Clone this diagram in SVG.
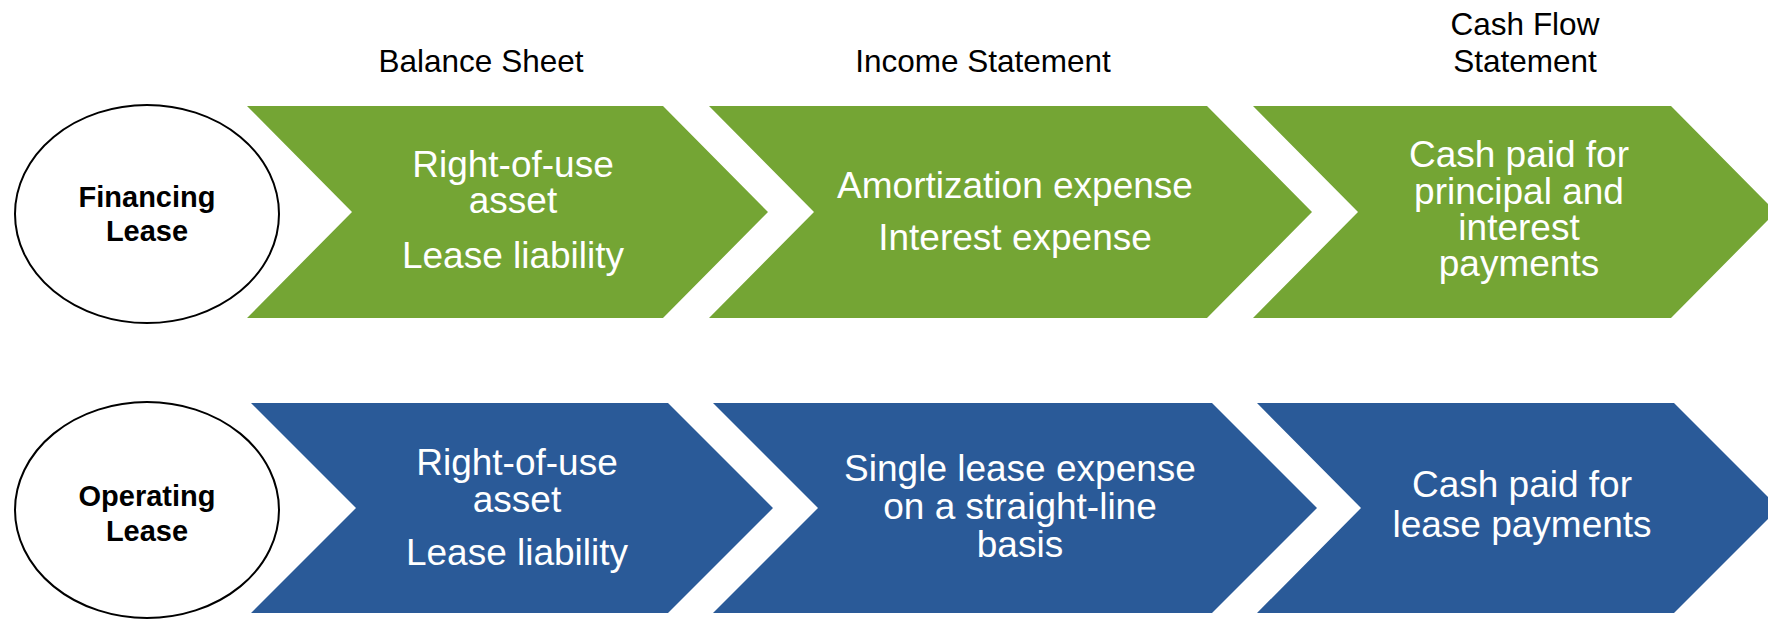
<svg xmlns="http://www.w3.org/2000/svg" width="1768" height="619" viewBox="0 0 1768 619">
<style>
  .hdr { font-family: "Liberation Sans", Arial, sans-serif; font-size: 31.5px; fill: #000; text-anchor: middle; }
  .lbl { font-family: "Liberation Sans", Arial, sans-serif; font-size: 29px; font-weight: bold; fill: #000; text-anchor: middle; }
  .ct { font-family: "Liberation Sans", Arial, sans-serif; font-size: 37px; fill: #fff; text-anchor: middle; }
  .ell { fill: #fff; stroke: #000; stroke-width: 2; }
  .green { fill: #74A534; }
  .blue { fill: #2A5A98; }
</style>
<rect width="1768" height="619" fill="#fff"/>
<g id="headers">
  <text class="hdr" x="481" y="72">Balance Sheet</text>
  <text class="hdr" x="983" y="72">Income Statement</text>
  <text class="hdr" x="1525" y="35">Cash Flow</text>
  <text class="hdr" x="1525" y="72">Statement</text>
</g>
<g id="financing-lease">
  <ellipse class="ell" cx="147" cy="214" rx="132" ry="109"/>
  <text class="lbl" x="147" y="207">Financing</text>
  <text class="lbl" x="147" y="241">Lease</text>
</g>
<g id="operating-lease">
  <ellipse class="ell" cx="147" cy="510" rx="132" ry="108"/>
  <text class="lbl" x="147" y="506">Operating</text>
  <text class="lbl" x="147" y="541">Lease</text>
</g>
<g id="fin-balance">
  <path class="green" d="M247,106 L663,106 L768,212 L663,318 L247,318 L352,212 Z"/>
  <text class="ct" x="513" y="177">Right-of-use</text>
  <text class="ct" x="513" y="213">asset</text>
  <text class="ct" x="513" y="268">Lease liability</text>
</g>
<g id="fin-income">
  <path class="green" d="M709,106 L1207,106 L1312,212 L1207,318 L709,318 L814,212 Z"/>
  <text class="ct" x="1015" y="198">Amortization expense</text>
  <text class="ct" x="1015" y="250">Interest expense</text>
</g>
<g id="fin-cash">
  <path class="green" d="M1253,106 L1671,106 L1776,212 L1671,318 L1253,318 L1358,212 Z"/>
  <text class="ct" x="1519" y="167">Cash paid for</text>
  <text class="ct" x="1519" y="204">principal and</text>
  <text class="ct" x="1519" y="240">interest</text>
  <text class="ct" x="1519" y="276">payments</text>
</g>
<g id="op-balance">
  <path class="blue" d="M251,403 L668,403 L773,508 L668,613 L251,613 L356,508 Z"/>
  <text class="ct" x="517" y="475">Right-of-use</text>
  <text class="ct" x="517" y="512">asset</text>
  <text class="ct" x="517" y="565">Lease liability</text>
</g>
<g id="op-income">
  <path class="blue" d="M713,403 L1212,403 L1317,508 L1212,613 L713,613 L818,508 Z"/>
  <text class="ct" x="1020" y="481">Single lease expense</text>
  <text class="ct" x="1020" y="519">on a straight-line</text>
  <text class="ct" x="1020" y="557">basis</text>
</g>
<g id="op-cash">
  <path class="blue" d="M1257,403 L1674,403 L1779,508 L1674,613 L1257,613 L1361,508 Z"/>
  <text class="ct" x="1522" y="497">Cash paid for</text>
  <text class="ct" x="1522" y="537">lease payments</text>
</g>
<g id="connectors"></g>
</svg>
